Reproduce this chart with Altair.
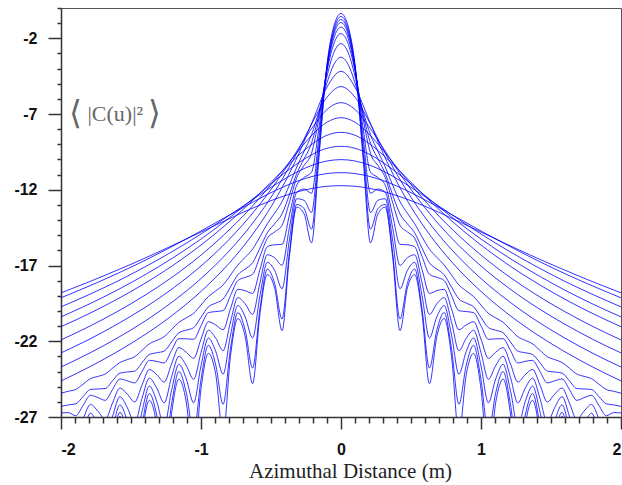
import altair as alt
import pandas as pd

# half-profile sample positions (the curves are symmetric about 0)
XQ = [0, 0.0526, 0.1053, 0.1579, 0.2105, 0.2632, 0.3158, 0.3684, 0.4211, 0.4737,
      0.5263, 0.5789, 0.6316, 0.6842, 0.7368, 0.7895, 0.8421, 0.8947, 0.9474, 1.0,
      1.0526, 1.1053, 1.1579, 1.2105, 1.2632, 1.3158, 1.3684, 1.4211, 1.4737, 1.5263,
      1.5789, 1.6316, 1.6842, 1.7368, 1.7895, 1.8421, 1.8947, 1.9474, 2.0]

C1 = [-0.36, -1.25, -4.13, -9.91, -15.5, -13.6, -13.15, -16.4, -21.3, -18.5,
      -17.6, -20.2, -24.8, -21.7, -20.5, -23.0, -28.13, -24.19, -22.8, -25.15,
      -30.02, -26.02, -24.5, -26.80, -31.58, -27.52, -25.9, -28.19, -32.9, -28.80,
      -26.96, -29.39, -34.05, -29.93, -28.04, -30.43, -35.07, -30.9, -29.0]
C2 = [-0.56, -1.44, -4.24, -9.61, -14.6, -13.25, -12.97, -16.12, -20.53, -18.19,
      -17.24, -19.87, -23.77, -21.28, -20.11, -22.5, -26.16, -23.57, -22.27, -24.53,
      -28.05, -25.39, -24.0, -26.17, -29.61, -26.89, -25.45, -27.55, -30.93, -28.17,
      -26.69, -28.75, -32.08, -29.29, -27.77, -29.8, -33.1, -30.28, -28.74]
C3 = [-0.76, -1.61, -4.28, -9.09, -13.5, -12.7, -12.59, -15.3, -18.53, -17.33,
      -16.79, -18.99, -21.78, -20.39, -19.64, -21.6, -24.17, -22.67, -21.79, -23.62,
      -26.06, -24.48, -23.52, -25.26, -27.62, -25.98, -24.96, -26.64, -28.94, -27.26,
      -26.2, -27.84, -30.09, -28.38, -27.28, -28.88, -31.11, -29.37, -28.24]
C4 = [-0.96, -1.78, -4.29, -8.52, -12.23, -11.95, -12.16, -14.49, -16.99, -16.49,
      -16.29, -18.14, -20.23, -19.53, -19.12, -20.73, -22.62, -21.8, -21.27, -22.75,
      -24.51, -23.6, -22.99, -24.38, -26.07, -25.1, -24.43, -25.76, -27.39, -26.38,
      -25.66, -26.96, -28.54, -27.5, -26.75, -28.0, -29.56, -28.49, -27.71]
C5 = [-1.26, -2.03, -4.34, -7.92, -10.84, -11.18, -11.69, -13.66, -15.6, -15.63,
      -15.76, -17.27, -18.84, -18.66, -18.57, -19.86, -21.24, -20.92, -20.71, -21.86,
      -23.13, -22.72, -22.42, -23.5, -24.69, -24.21, -23.86, -24.88, -26.01, -25.49,
      -25.09, -26.07, -27.16, -26.61, -26.17, -27.11, -28.18, -27.59, -27.14]
C6 = [-1.69, -2.40, -4.42, -7.29, -9.59, -10.39, -11.19, -12.82, -14.34, -14.78,
      -15.2, -16.4, -17.58, -17.78, -17.99, -18.98, -19.98, -20.04, -20.11, -20.98,
      -21.87, -21.84, -21.83, -22.61, -23.43, -23.33, -23.26, -23.99, -24.75, -24.61,
      -24.49, -25.18, -25.9, -25.72, -25.57, -26.23, -26.92, -26.71, -26.73]
C7 = [-2.35, -2.98, -4.71, -7.02, -8.92, -9.95, -10.92, -12.32, -13.59, -14.24,
      -14.84, -15.85, -16.82, -17.23, -17.61, -18.42, -19.21, -19.48, -19.73, -20.42,
      -21.1, -21.27, -21.44, -22.05, -22.65, -22.76, -22.87, -23.42, -23.97, -24.03,
      -24.1, -24.61, -25.12, -25.15, -25.18, -25.65, -26.13, -26.2, -26.3]
C8 = [-3.25, -3.76, -5.1, -6.84, -8.37, -9.45, -10.49, -11.68, -12.78, -13.54,
      -14.24, -15.11, -15.92, -16.46, -16.96, -17.63, -18.28, -18.68, -19.05, -19.61,
      -20.15, -20.46, -20.75, -21.23, -21.7, -21.94, -22.17, -22.6, -23.02, -23.21,
      -23.4, -23.78, -24.16, -24.32, -24.47, -24.83, -25.18, -25.3, -25.43]

XS = [0, 0.1, 0.2, 0.3, 0.4, 0.5, 0.6, 0.7, 0.8, 1.0, 1.2, 1.4, 1.6, 1.8, 2.0]
C9 = [-4.18, -5.23, -7.39, -9.58, -11.49, -13.13, -14.54, -15.77, -16.86, -18.71, -20.25, -21.56, -22.7, -23.71, -24.62]
C10 = [-5.19, -5.89, -7.49, -9.30, -10.99, -12.5, -13.82, -15.0, -16.05, -17.86, -19.37, -20.67, -21.8, -22.8, -23.7]
C11 = [-6.25, -6.70, -7.83, -9.23, -10.65, -11.98, -13.19, -14.29, -15.29, -17.03, -18.5, -19.77, -20.88, -21.88, -22.77]
C12 = [-7.24, -7.54, -8.32, -9.38, -10.53, -11.66, -12.74, -13.74, -14.66, -16.31, -17.73, -18.96, -20.05, -21.03, -21.91]
C13 = [-8.21, -8.40, -8.94, -9.70, -10.58, -11.51, -12.42, -13.3, -14.13, -15.65, -16.99, -18.17, -19.23, -20.18, -21.04]
C14 = [-9.13, -9.26, -9.64, -10.2, -10.87, -11.61, -12.38, -13.13, -13.87, -15.25, -16.49, -17.61, -18.63, -19.55, -20.39]
C15 = [-10.01, -10.1, -10.36, -10.76, -11.27, -11.84, -12.45, -13.08, -13.7, -14.92, -16.05, -17.09, -18.05, -18.92, -19.73]
C16 = [-10.87, -10.93, -11.11, -11.39, -11.76, -12.19, -12.67, -13.17, -13.68, -14.72, -15.71, -16.66, -17.54, -18.36, -19.13]
C17 = [-11.73, -11.77, -11.9, -12.11, -12.39, -12.72, -13.09, -13.49, -13.92, -14.79, -15.66, -16.51, -17.31, -18.08, -18.8]

curves = [(XQ, c) for c in (C1, C2, C3, C4, C5, C6, C7, C8)] + \
         [(XS, c) for c in (C9, C10, C11, C12, C13, C14, C15, C16, C17)]

rows = []
for k, (xs, ys) in enumerate(curves):
    assert len(xs) == len(ys), (k, len(xs), len(ys))
    for x, y in zip(xs, ys):
        rows.append({"curve": k, "x": x, "y": y})
        if x > 0:
            rows.append({"curve": k, "x": -x, "y": y})
df = pd.DataFrame(rows).sort_values(["curve", "x"])

X_TICKS = [round(-2 + 0.1 * i, 1) for i in range(41)]
Y_TICKS = list(range(-27, 1))

xscale = alt.Scale(domain=[-2, 2], nice=False, zero=False)
yscale = alt.Scale(domain=[-27, 0], nice=False, zero=False)

major_x = "abs(datum.value - round(datum.value)) < 0.001"
major_y = "(datum.value + 27) % 5 == 0"

common_axis = dict(
    grid=False, domainColor="#333333", domainWidth=1.5, tickColor="#333333",
    tickWidth=1.5, labelFont="Liberation Sans", labelFontWeight="bold",
    labelFontSize=16, labelColor="#111111", tickCount=200, labelOverlap=False,
)

xaxis = alt.Axis(
    values=X_TICKS, title="Azimuthal Distance (m)",
    labelExpr=f"{major_x} ? '' + datum.value : ''",
    tickSize={"condition": {"test": major_x, "value": 12}, "value": 6},
    labelPadding=12, titleFont="Liberation Serif", titleFontSize=21,
    titleFontWeight="normal", titleColor="#222222", titlePadding=3,
    titleX=289, titleAlign="center",
    **common_axis,
)
yaxis = alt.Axis(
    values=Y_TICKS, title=None,
    labelExpr=f"{major_y} ? '' + datum.value : ''",
    tickSize={"condition": {"test": major_y, "value": 13}, "value": 4},
    labelPadding=11, **common_axis,
)

lines = alt.Chart(df).mark_line(
    clip=True, interpolate="monotone", strokeWidth=0.8, color="#0000ff"
).encode(
    x=alt.X("x:Q", scale=xscale, axis=xaxis),
    y=alt.Y("y:Q", scale=yscale, axis=yaxis),
    detail="curve:N",
    order="x:Q",
)

# y-quantity label drawn inside the plot: tall angle brackets around |C(u)|²
LABEL_TEXT = ["⟨", "|C(u)|²", "⟩"]
LABEL_X = [-1.895, -1.612, -1.33]
LABEL_Y = [-7.0, -7.0, -7.0]
LABEL_SIZE = [33, 22, 33]
label_df = pd.DataFrame({"x": LABEL_X, "y": LABEL_Y, "t": LABEL_TEXT, "s": LABEL_SIZE})
label = alt.Chart(label_df).mark_text(
    font="Liberation Serif", color="#666666", align="center", baseline="middle"
).encode(
    x="x:Q", y="y:Q", text="t:N",
    size=alt.Size("s:Q", scale=None),
)

chart = alt.layer(lines, label).properties(
    width=560, height=409,
    autosize=alt.AutoSizeParams(type="none"),
    padding={"left": 61, "top": 8, "right": 1, "bottom": 68},
).configure_view(stroke="#555555", strokeWidth=1)

chart.save("out.html", embed_options={"renderer": "svg", "actions": False})
